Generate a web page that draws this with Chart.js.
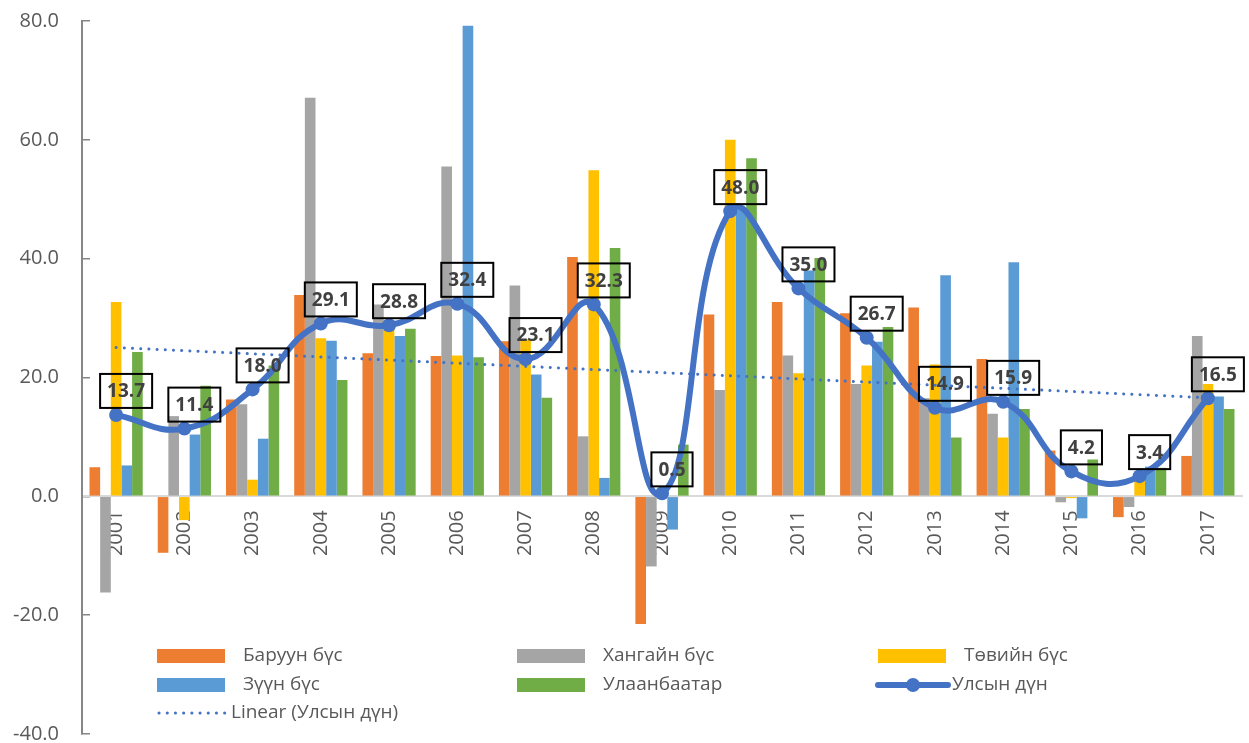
<!DOCTYPE html>
<html>
<head>
<meta charset="utf-8">
<script src="https://cdn.jsdelivr.net/npm/chart.js@4.4.1/dist/chart.umd.min.js"></script>
<style>body{margin:0;background:#fff}</style>
</head>
<body>
<canvas id="chart" width="1249" height="743"></canvas>
<script>
// Regional growth by year

var years = ['2001','2002','2003','2004','2005','2006','2007','2008','2009','2010','2011','2012','2013','2014','2015','2016','2017'];
var baruun = [4.9, -9.5, 16.3, 33.9, 24.1, 23.6, 26.1, 40.3, -21.5, 30.6, 32.7, 30.8, 31.8, 23.1, 7.7, -3.5, 6.8];
var khangai = [-16.2, 13.5, 15.5, 67.1, 32.3, 55.5, 35.5, 10.1, -11.8, 17.9, 23.7, 18.9, 16.5, 13.9, -1.0, -1.8, 27.0];
var tuv = [32.7, -4.0, 2.8, 26.6, 28.5, 23.7, 26.5, 54.9, 0.3, 60.0, 20.7, 22.0, 22.2, 9.9, -0.3, 3.8, 18.9];
var zuun = [5.2, 10.4, 9.7, 26.2, 27.0, 79.2, 20.5, 3.1, -5.6, 48.5, 38.0, 26.0, 37.2, 39.4, -3.7, 5.0, 16.8];
var ulaanbaatar = [24.3, 18.6, 22.0, 19.6, 28.2, 23.4, 16.6, 41.8, 8.7, 56.9, 40.1, 28.5, 9.9, 14.7, 6.2, 4.8, 14.7];
var total = [13.7, 11.4, 18.0, 29.1, 28.8, 32.4, 23.1, 32.3, 0.5, 48.0, 35.0, 26.7, 14.9, 15.9, 4.2, 3.4, 16.5];
var yTicks = [-40, -20, 0, 20, 40, 60, 80];

// least squares trend of the total, like Excel's "Linear" trendline
function linearTrend(vals) {
    var n = vals.length, sx = 0, sy = 0, sxy = 0, sxx = 0;
    vals.forEach(function (v, i) { sx += i; sy += v; sxy += i * v; sxx += i * i; });
    var b = (n * sxy - sx * sy) / (n * sxx - sx * sx);
    var a = (sy - b * sx) / n;
    return vals.map(function (v, i) { return a + b * i; });
}
var trend = linearTrend(total);

var FONT = '"Open Sans", "Noto Sans", sans-serif';
var TXT = '#595959';
var BLUE = '#4472C4';

var valueLabels = {
    id: 'valueLabels',
    afterDatasetsDraw: function (chart) {
        var meta = chart.getDatasetMeta(5);
        var ctx = chart.ctx;
        ctx.save();
        ctx.font = 'bold 19px ' + FONT;
        ctx.textAlign = 'center';
        ctx.textBaseline = 'middle';
        meta.data.forEach(function (pt, i) {
            var txt = total[i].toFixed(1);
            var w = ctx.measureText(txt).width + 14, h = 34;
            var cx = Math.min(pt.x + 10, chart.width - w / 2 - 4);
            var cy = pt.y - 24;
            ctx.lineWidth = 2;
            ctx.strokeStyle = '#000';
            ctx.strokeRect(cx - w / 2, cy - h / 2, w, h);
            ctx.fillStyle = '#404040';
            ctx.fillText(txt, cx, cy + 1);
        });
        ctx.restore();
    }
};

var boxLegend = {
    id: 'boxLegend',
    afterDraw: function (chart) {
        var ctx = chart.ctx;
        var ds = chart.data.datasets;
        var cols = [157, 517, 878];
        var rows = [656, 685, 713];
        ctx.save();
        ctx.font = '19px ' + FONT;
        ctx.textBaseline = 'middle';
        ctx.fillStyle = TXT;
        ds.forEach(function (d, i) {
            var x = cols[i % 3], y = rows[Math.floor(i / 3)];
            if (d.type === 'bar' || !d.type) {
                ctx.fillStyle = d.backgroundColor;
                ctx.fillRect(x, y - 7, 68, 14);
                ctx.fillStyle = TXT;
                ctx.fillText(d.label, x + 86, y);
            } else if (i === 5) {
                ctx.strokeStyle = BLUE;
                ctx.lineWidth = 6;
                ctx.lineCap = 'round';
                ctx.beginPath(); ctx.moveTo(x, y); ctx.lineTo(x + 70, y); ctx.stroke();
                ctx.fillStyle = BLUE;
                ctx.beginPath(); ctx.arc(x + 35, y, 7, 0, Math.PI * 2); ctx.fill();
                ctx.fillStyle = TXT;
                ctx.fillText(d.label, x + 74, y);
            } else {
                ctx.strokeStyle = BLUE;
                ctx.lineWidth = 3;
                ctx.lineCap = 'round';
                ctx.setLineDash([0.1, 8.1]);
                ctx.beginPath(); ctx.moveTo(x + 2, y); ctx.lineTo(x + 68, y); ctx.stroke();
                ctx.setLineDash([]);
                ctx.fillStyle = TXT;
                ctx.fillText(d.label, x + 74, y);
            }
        });
        ctx.restore();
    }
};

var ctx = document.getElementById('chart').getContext('2d');
var chart = new Chart(ctx, {
    type: 'bar',
    data: {
        labels: years,
        datasets: [
            { label: 'Баруун бүс', data: baruun, backgroundColor: '#ED7D31', order: 3 },
            { label: 'Хангайн бүс', data: khangai, backgroundColor: '#A5A5A5', order: 3 },
            { label: 'Төвийн бүс', data: tuv, backgroundColor: '#FFC000', order: 3 },
            { label: 'Зүүн бүс', data: zuun, backgroundColor: '#5B9BD5', order: 3 },
            { label: 'Улаанбаатар', data: ulaanbaatar, backgroundColor: '#70AD47', order: 3 },
            {
                type: 'line', label: 'Улсын дүн', data: total, order: 0,
                borderColor: BLUE, backgroundColor: BLUE, borderWidth: 6,
                pointRadius: 7, pointBackgroundColor: BLUE, pointBorderWidth: 0,
                tension: 0.45
            },
            {
                type: 'line', label: 'Linear (Улсын дүн)', data: trend, order: 1,
                borderColor: BLUE, borderWidth: 3, borderDash: [0.1, 8.1],
                borderCapStyle: 'round', pointRadius: 0, tension: 0
            }
        ]
    },
    options: {
        responsive: false,
        animation: false,
        layout: { padding: { top: 21, right: 4, bottom: 9, left: 0 } },
        plugins: { legend: { display: false }, tooltip: { enabled: false } },
        datasets: { bar: { categoryPercentage: 0.78, barPercentage: 1, borderWidth: 0 } },
        scales: {
            x: {
                position: { y: 0 },
                afterFit: function (axis) {
                    axis.height = 0;
                    axis.paddingTop = 0; axis.paddingBottom = 0;
                    axis.paddingLeft = 0; axis.paddingRight = 0;
                },
                grid: { display: false },
                border: { color: '#D9D9D9', width: 2 },
                ticks: {
                    color: TXT, font: { size: 20, family: FONT },
                    minRotation: 90, maxRotation: 90, autoSkip: false, padding: 6
                }
            },
            y: {
                min: -40, max: 80,
                afterBuildTicks: function (axis) {
                    axis.ticks = yTicks.map(function (v) { return { value: v }; });
                },
                afterFit: function (axis) {
                    axis.width = 82;
                    axis.paddingTop = 0; axis.paddingBottom = 0;
                },
                // tick marks point inwards, as in the original
                grid: { drawOnChartArea: false, drawTicks: true, tickLength: -8, color: '#868686', lineWidth: 1.5 },
                border: { color: '#868686', width: 2 },
                ticks: {
                    color: TXT, font: { size: 20, family: FONT }, padding: 31,
                    callback: function (v) { return Number(v).toFixed(1); }
                }
            }
        }
    },
    plugins: [valueLabels, boxLegend]
});
</script>
</body>
</html>
